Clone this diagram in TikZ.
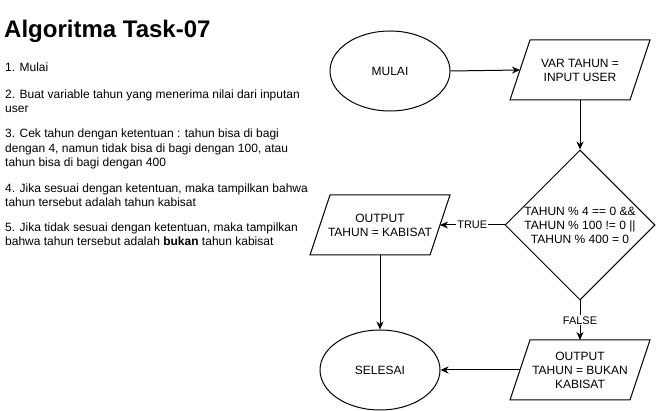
\documentclass[tikz,border=0pt]{standalone}
\usepackage{fontspec}
\setmainfont{Liberation Sans}
\usetikzlibrary{shapes.geometric,arrows.meta}
\newcommand\drawpara[1]{\draw[line] ([xshift=10pt]#1.north west) -- ([xshift=10pt]#1.north east) -- ([xshift=-10pt]#1.south east) -- ([xshift=-10pt]#1.south west) -- cycle;}
\begin{document}
\begin{tikzpicture}[x=1pt,y=-1pt,
 line/.style={draw=black, line width=1pt},
 arr/.style={line, -{Stealth[length=8pt,width=7pt,inset=2.5pt]}},
 term/.style={ellipse, draw, line width=1pt, minimum width=120pt, minimum height=80pt, inner sep=0pt, font=\fontsize{12}{14}\selectfont},
 para/.style={rectangle, minimum width=120pt, minimum height=60pt, inner sep=0pt, outer sep=0pt, align=center, font=\fontsize{12}{14}\selectfont},
 decision/.style={diamond, draw, line width=1pt, minimum width=150pt, minimum height=150pt, inner sep=0pt, align=center, font=\fontsize{12}{14}\selectfont},
 lbl/.style={fill=white, inner sep=1pt, font=\fontsize{11}{13}\selectfont},
 body/.style={anchor=base west, inner sep=0pt, font=\fontsize{12}{14}\selectfont},
]
\useasboundingbox (0,0) rectangle (656,411);

\node[anchor=base west, inner sep=0pt, font=\fontsize{24}{28}\selectfont\bfseries] (title) at (4,38) {Algoritma Task-07};

\node[body] (l1) at (5,72) {1. Mulai};
\node[body] (l2) at (5,99) {2. Buat variable tahun yang menerima nilai dari inputan};
\node[body] (l3) at (5,112.5) {user};
\node[body] (l4) at (5,138) {3. Cek tahun dengan ketentuan : tahun bisa di bagi};
\node[body] (l5) at (5,152.5) {dengan 4, namun tidak bisa di bagi dengan 100, atau};
\node[body] (l6) at (5,167) {tahun bisa di bagi dengan 400};
\node[body] (l7) at (5,193) {4. Jika sesuai dengan ketentuan, maka tampilkan bahwa};
\node[body] (l8) at (5,207) {tahun tersebut adalah tahun kabisat};
\node[body] (l9) at (5,232) {5. Jika tidak sesuai dengan ketentuan, maka tampilkan};
\node[body] (l10) at (5,245.5) {bahwa tahun tersebut adalah \textbf{bukan} tahun kabisat};

\node[term] (mulai) at (390,71) {MULAI};
\node[para] (var) at (580,70) {VAR TAHUN =\\INPUT USER};
\drawpara{var}
\node[decision] (dec) at (580,225) {TAHUN \% 4 == 0 \&\&\\TAHUN \% 100 != 0 ||\\TAHUN \% 400 = 0};
\node[para] (kab) at (380,225) {OUTPUT\\TAHUN = KABISAT};
\drawpara{kab}
\node[term] (sel) at (380,370) {SELESAI};
\node[para] (bukan) at (580,370) {OUTPUT\\TAHUN = BUKAN\\KABISAT};
\drawpara{bukan}

\draw[arr] (mulai.east) -- (var.west);
\draw[arr] (var.south) -- (dec.north);
\draw[arr] (dec.west) -- node[lbl] {TRUE} (kab.east);
\draw[arr] (kab.south) -- (sel.north);
\draw[arr] (dec.south) -- node[lbl] {FALSE} (bukan.north);
\draw[arr] (bukan.west) -- (sel.east);
\end{tikzpicture}
\end{document}
